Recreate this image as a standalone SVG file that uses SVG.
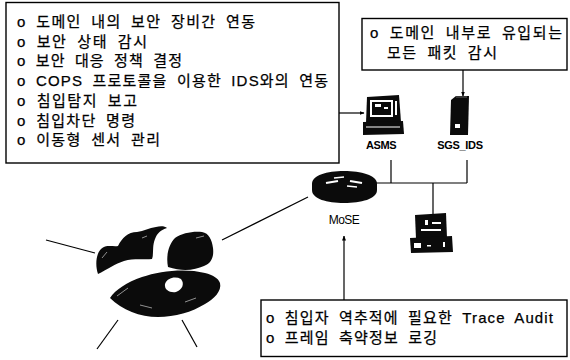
<svg xmlns="http://www.w3.org/2000/svg" width="570" height="360" viewBox="0 0 570 360">
  <style>
    .box { fill: #fff; stroke: #000; stroke-width: 1.4; }
    .txt { font-family: "Liberation Sans", "Noto Sans CJK KR", sans-serif; font-size: 15px; fill: #000; stroke: #000; stroke-width: 0.25; word-spacing: 4px; }
    .lbl { font-family: "Liberation Sans", Arial, sans-serif; font-size: 11px; fill: #000; font-weight: bold; }
    .lbl-plain { font-family: "Liberation Sans", Arial, sans-serif; font-size: 12px; fill: #000; font-weight: normal; }
    .wire { stroke: #000; stroke-width: 1.2; fill: none; }
    .dark { fill: #0b0b0b; }
    .hi { fill: #fff; }
  </style>
  <defs>
    <marker id="arrow" viewBox="0 0 10 10" refX="9" refY="5" markerWidth="5" markerHeight="5" orient="auto-start-reverse" markerUnits="userSpaceOnUse">
      <path d="M0,1 L10,5 L0,9 Z" fill="#000"/>
    </marker>
  </defs>
  <rect width="570" height="360" fill="#fff"/>

  <!-- connectors -->
  <g id="connectors">
    <line class="wire" x1="339" y1="113" x2="364" y2="113" marker-end="url(#arrow)"/>
    <line class="wire" x1="463" y1="70" x2="463" y2="96" marker-end="url(#arrow)"/>
    <line class="wire" x1="391" y1="160" x2="391" y2="183"/>
    <line class="wire" x1="467" y1="160" x2="467" y2="183"/>
    <line class="wire" x1="376" y1="183" x2="467" y2="183"/>
    <line class="wire" x1="433" y1="183" x2="433" y2="214"/>
    <line class="wire" x1="344" y1="300" x2="344" y2="236" marker-end="url(#arrow)"/>
    <line class="wire" x1="222" y1="240" x2="308" y2="197"/>
    <line class="wire" x1="46" y1="240" x2="95" y2="253"/>
    <line class="wire" x1="118" y1="320" x2="97" y2="349"/>
    <line class="wire" x1="182" y1="320" x2="197" y2="347"/>
  </g>

  <!-- management functions -->
  <g id="asms-functions">
    <rect class="box" x="6" y="2.5" width="333" height="160.5"/>
    <text class="txt" x="17" y="27" textLength="238" lengthAdjust="spacing">o 도메인 내의 보안 장비간 연동</text>
    <text class="txt" x="17" y="46.7" textLength="130" lengthAdjust="spacing">o 보안 상태 감시</text>
    <text class="txt" x="17" y="66.4" textLength="165" lengthAdjust="spacing">o 보안 대응 정책 결정</text>
    <text class="txt" x="17" y="86.1" textLength="311" lengthAdjust="spacing">o COPS 프로토콜을 이용한 IDS와의 연동</text>
    <text class="txt" x="17" y="105.8" textLength="120" lengthAdjust="spacing">o 침입탐지 보고</text>
    <text class="txt" x="17" y="125.5" textLength="118" lengthAdjust="spacing">o 침입차단 명령</text>
    <text class="txt" x="17" y="145.2" textLength="143" lengthAdjust="spacing">o 이동형 센서 관리</text>
  </g>

  <!-- IDS function -->
  <g id="ids-function">
    <rect class="box" x="362" y="18.5" width="205" height="51.5"/>
    <text class="txt" x="370" y="38" textLength="192" lengthAdjust="spacing">o 도메인 내부로 유입되는</text>
    <text class="txt" x="387" y="58" textLength="110" lengthAdjust="spacing">모든 패킷 감시</text>
  </g>

  <!-- MoSE function -->
  <g id="mose-function">
    <rect class="box" x="261" y="300" width="306" height="56.5"/>
    <text class="txt" x="266" y="323" textLength="287" lengthAdjust="spacing">o 침입자 역추적에 필요한 Trace Audit</text>
    <text class="txt" x="266" y="343" textLength="171" lengthAdjust="spacing">o 프레임 축약정보 로깅</text>
  </g>

  <!-- ASMS workstation -->
  <g id="asms">
    <path class="dark" d="M367,97 L399,95 L401,122 L366,123 Z"/>
    <rect class="hi" x="370" y="100" width="23" height="17"/>
    <rect class="dark" x="372" y="102" width="19" height="13"/>
    <rect class="hi" x="375" y="104" width="6" height="3"/>
    <rect class="hi" x="384" y="107" width="4" height="2"/>
    <rect class="hi" x="395" y="101" width="2" height="14"/>
    <path class="dark" d="M363,122 L403,121 L404,134 L363,135 Z"/>
    <line x1="366" y1="127" x2="400" y2="127" stroke="#fff" stroke-width="1"/>
    <text class="lbl" x="381" y="149" text-anchor="middle" letter-spacing="-0.4">ASMS</text>
  </g>

  <!-- SGS_IDS server -->
  <g id="sgs-ids">
    <path class="dark" d="M451,100 L456,96 L469,96 L468,135 L450,135 Z"/>
    <line x1="456" y1="97" x2="467" y2="97" stroke="#666" stroke-width="1"/>
    <rect class="hi" x="455" y="124" width="5" height="4"/>
    <text class="lbl" x="460" y="149" text-anchor="middle" letter-spacing="-0.3">SGS_IDS</text>
  </g>

  <!-- MoSE router -->
  <g id="mose">
    <path class="dark" d="M312,184 C312,175 327,171 344,171 C361,171 377,175 377,184 L377,190 C377,199 361,203 344,203 C327,203 312,199 312,190 Z"/>
    <path d="M326,183 L338,181" stroke="#fff" stroke-width="2"/>
    <path d="M350,181 L362,183" stroke="#fff" stroke-width="2"/>
    <path d="M334,178 L344,177" stroke="#fff" stroke-width="1.5"/>
    <path d="M347,186 L357,187" stroke="#fff" stroke-width="1.5"/>
    <text class="lbl-plain" x="344" y="224" text-anchor="middle" letter-spacing="-0.6">MoSE</text>
  </g>

  <!-- host PC -->
  <g id="host">
    <path class="dark" d="M415,215 L446,213 L447,238 L416,239 Z"/>
    <rect class="hi" x="425" y="220" width="3" height="5"/>
    <rect class="hi" x="432" y="222" width="9" height="2"/>
    <rect class="hi" x="421" y="229" width="20" height="2"/>
    <path class="dark" d="M410,238 L452,236 L453,252 L411,253 Z"/>
    <rect class="hi" x="414" y="243" width="7" height="5"/>
    <rect class="hi" x="427" y="245" width="4" height="1.5"/>
    <rect class="hi" x="443" y="242" width="2" height="5"/>
  </g>

  <!-- Internet cloud -->
  <g id="internet">
    <path class="dark" d="M98,274 C95,265 96,254 101,249 C106,244 113,247 118,246 C122,238 128,232 137,232 C144,231 149,228 156,227 C160,226 165,226 167,228 C161,230 157,233 155,239 C152,246 154,254 152,259 C145,260 134,258 124,261 C115,264 108,269 98,274 Z"/>
    <path class="dark" d="M168,267 C166,257 168,245 175,238 C182,233 193,231 202,232 C209,233 212,240 213,248 C214,256 212,263 204,266 C195,270 183,272 168,267 Z"/>
    <path class="dark" d="M110,298 C115,290 127,282 142,277 C160,271 185,268 205,273 C213,275 218,278 220,283 C222,291 214,299 205,304 C192,312 175,317 158,317 C140,317 122,310 110,298 Z"/>
    <path class="hi" d="M165,284 C167,278 175,276 181,279 C185,284 182,290 176,292 C170,293 164,290 165,284 Z"/>
    <path d="M102,258 L107,252 M117,296 L128,288 M196,238 L204,236 M140,305 L152,308 M185,302 L196,298 M142,238 L147,236" stroke="#fff" stroke-width="1" opacity="0.55"/>
  </g>
</svg>
